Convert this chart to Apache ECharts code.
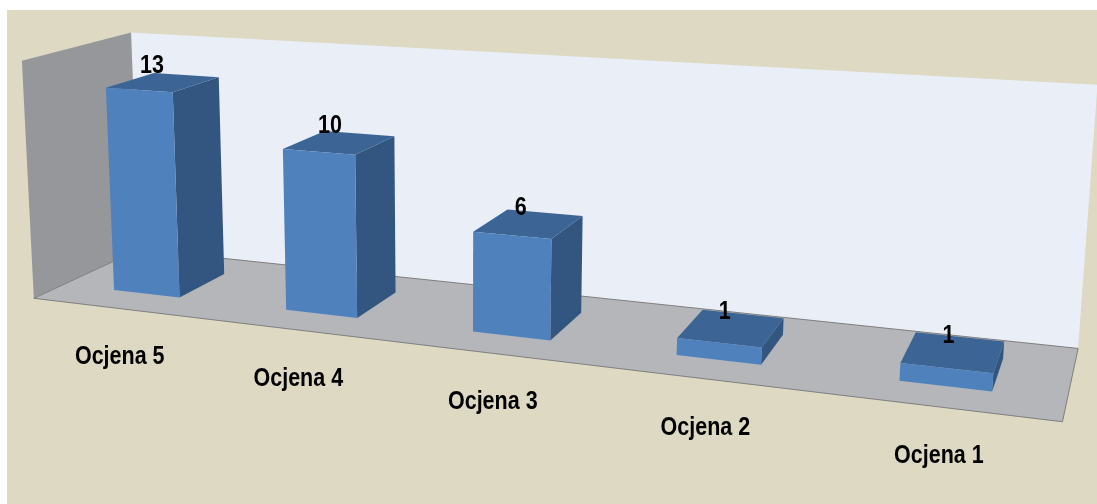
<!DOCTYPE html>
<html>
<head>
<meta charset="utf-8">
<script src="https://cdn.jsdelivr.net/npm/echarts@6/dist/echarts.min.js"></script>
<style>
html, body { margin: 0; padding: 0; background: #fff; }
#main { width: 1097px; height: 504px; }
</style>
</head>
<body>
<div id="main"></div>
<script>
var categories = ['Ocjena 5', 'Ocjena 4', 'Ocjena 3', 'Ocjena 2', 'Ocjena 1'];
var values = [13, 10, 6, 1, 1];
var axisMax = 15;

// where the corners of the wall box land on screen: [u, v, w, x, y]
// u = along the categories, v = back -> front, w = height (0..axisMax)
var boxCorners = [
  [0, 0, 0, 135, 250],
  [1, 0, 0, 1079, 347],
  [0, 1, 0, 38, 298],
  [1, 1, 0, 1062, 423],
  [0, 0, 1, 135, 33],
  [1, 0, 1, 1097, 85],
  [0, 1, 1, 18, 60]
];

var barWidthRatio = 0.39;
var barBack = 0.27, barFront = 0.73;
var labelFont = 'bold 25px "Liberation Sans Narrow", "Arial Narrow", "Liberation Sans", Arial, sans-serif';

// least squares camera fit (DLT, p34 = 1)
function fitCamera(pts) {
  var n = 11, AtA = [], Atb = [];
  for (var i = 0; i < n; i++) { AtA.push(new Array(n).fill(0)); Atb.push(0); }
  function addRow(row, rhs) {
    for (var i = 0; i < n; i++) {
      Atb[i] += row[i] * rhs;
      for (var j = 0; j < n; j++) AtA[i][j] += row[i] * row[j];
    }
  }
  pts.forEach(function (p) {
    var x = p[0], y = p[1], z = p[2], a = p[3], b = p[4];
    addRow([x, y, z, 1, 0, 0, 0, 0, -a * x, -a * y, -a * z], a);
    addRow([0, 0, 0, 0, x, y, z, 1, -b * x, -b * y, -b * z], b);
  });
  for (var c = 0; c < n; c++) {
    var piv = c;
    for (var r = c + 1; r < n; r++) if (Math.abs(AtA[r][c]) > Math.abs(AtA[piv][c])) piv = r;
    var t = AtA[c]; AtA[c] = AtA[piv]; AtA[piv] = t;
    t = Atb[c]; Atb[c] = Atb[piv]; Atb[piv] = t;
    for (var r2 = 0; r2 < n; r2++) {
      if (r2 === c) continue;
      var f = AtA[r2][c] / AtA[c][c];
      for (var k = c; k < n; k++) AtA[r2][k] -= f * AtA[c][k];
      Atb[r2] -= f * Atb[c];
    }
  }
  var s = [];
  for (var q = 0; q < n; q++) s.push(Atb[q] / AtA[q][q]);
  return [[s[0], s[1], s[2], s[3]], [s[4], s[5], s[6], s[7]], [s[8], s[9], s[10], 1]];
}

var P = fitCamera(boxCorners);

function project(u, v, w) {
  var r = P.map(function (row) { return row[0] * u + row[1] * v + row[2] * w + row[3]; });
  return [r[0] / r[2], r[1] / r[2]];
}

function det3(m) {
  return m[0][0] * (m[1][1] * m[2][2] - m[1][2] * m[2][1])
       - m[0][1] * (m[1][0] * m[2][2] - m[1][2] * m[2][0])
       + m[0][2] * (m[1][0] * m[2][1] - m[1][1] * m[2][0]);
}
// camera centre = null vector of P
var cam = (function () {
  var c = [];
  for (var i = 0; i < 4; i++) {
    var m = P.map(function (row) { return row.filter(function (_, j) { return j !== i; }); });
    c.push((i % 2 ? -1 : 1) * det3(m));
  }
  return [c[0] / c[3], c[1] / c[3], c[2] / c[3]];
})();

function poly(pts3, color, z) {
  return {
    type: 'polygon',
    z: z,
    shape: { points: pts3.map(function (p) { return project(p[0], p[1], p[2]); }) },
    style: { fill: color }
  };
}

// narrow bold label, squeezed horizontally round its anchor
function label(text, x, y) {
  return {
    type: 'text', z: 2, x: x, y: y, scaleX: 0.86,
    style: { text: text, x: 0, y: 0, align: 'center', verticalAlign: 'middle', font: labelFont, fill: '#000' }
  };
}

var walls = [
  { type: 'rect', z: 0, shape: { x: 7, y: 10, width: 1090, height: 494 }, style: { fill: '#DDD9C3' } },
  poly([[0, 0, 0], [1, 0, 0], [1, 0, 1], [0, 0, 1]], '#EAEEF7', 1),
  poly([[0, 0, 0], [0, 1, 0], [0, 1, 1], [0, 0, 1]], '#95979A', 1),
  Object.assign(poly([[0, 0, 0], [1, 0, 0], [1, 1, 0], [0, 1, 0]], '#B4B6BA', 1),
    { style: { fill: '#B4B6BA', stroke: '#7F7F7F', lineWidth: 1 } })
];

var chart = echarts.init(document.getElementById('main'));
chart.setOption({
  backgroundColor: '#fff',
  animation: false,
  graphic: walls,
  grid: { left: 100, right: 100, top: 100, bottom: 100 },
  xAxis: { type: 'category', data: categories, show: false },
  yAxis: { type: 'value', min: 0, max: axisMax, show: false },
  series: [{
    type: 'custom',
    z: 5,
    data: values.map(function (v, i) { return [i, v]; }),
    renderItem: function (params, api) {
      var cs = params.coordSys;
      var i = api.value(0), val = api.value(1);
      var base = api.coord([i, 0]);
      var top = api.coord([i, val]);
      var band = api.size([1, 0])[0];
      var uc = (base[0] - cs.x) / cs.width;
      var hw = band * barWidthRatio / 2 / cs.width;
      var u0 = uc - hw, u1 = uc + hw;
      var h = (base[1] - top[1]) / cs.height;
      var v0 = barBack, v1 = barFront;
      var kids = [];
      if (cam[0] > u1) kids.push(poly([[u1, v1, 0], [u1, v0, 0], [u1, v0, h], [u1, v1, h]], '#32567F', 1));
      if (cam[0] < u0) kids.push(poly([[u0, v1, 0], [u0, v0, 0], [u0, v0, h], [u0, v1, h]], '#32567F', 1));
      kids.push(poly([[u0, v0, h], [u1, v0, h], [u1, v1, h], [u0, v1, h]], '#3C6595', 1));
      kids.push(poly([[u0, v1, 0], [u1, v1, 0], [u1, v1, h], [u0, v1, h]], '#4F81BD', 1));
      var lp = project(uc, (v0 + v1) / 2, h);
      kids.push(label(String(val), lp[0] - 12 + 8 * uc, lp[1] - 16));
      var cp = project(uc, 1, 0);
      kids.push(label(categories[i], cp[0] + 2, cp[1] + 49));
      return { type: 'group', children: kids };
    }
  }]
});
</script>
</body>
</html>
